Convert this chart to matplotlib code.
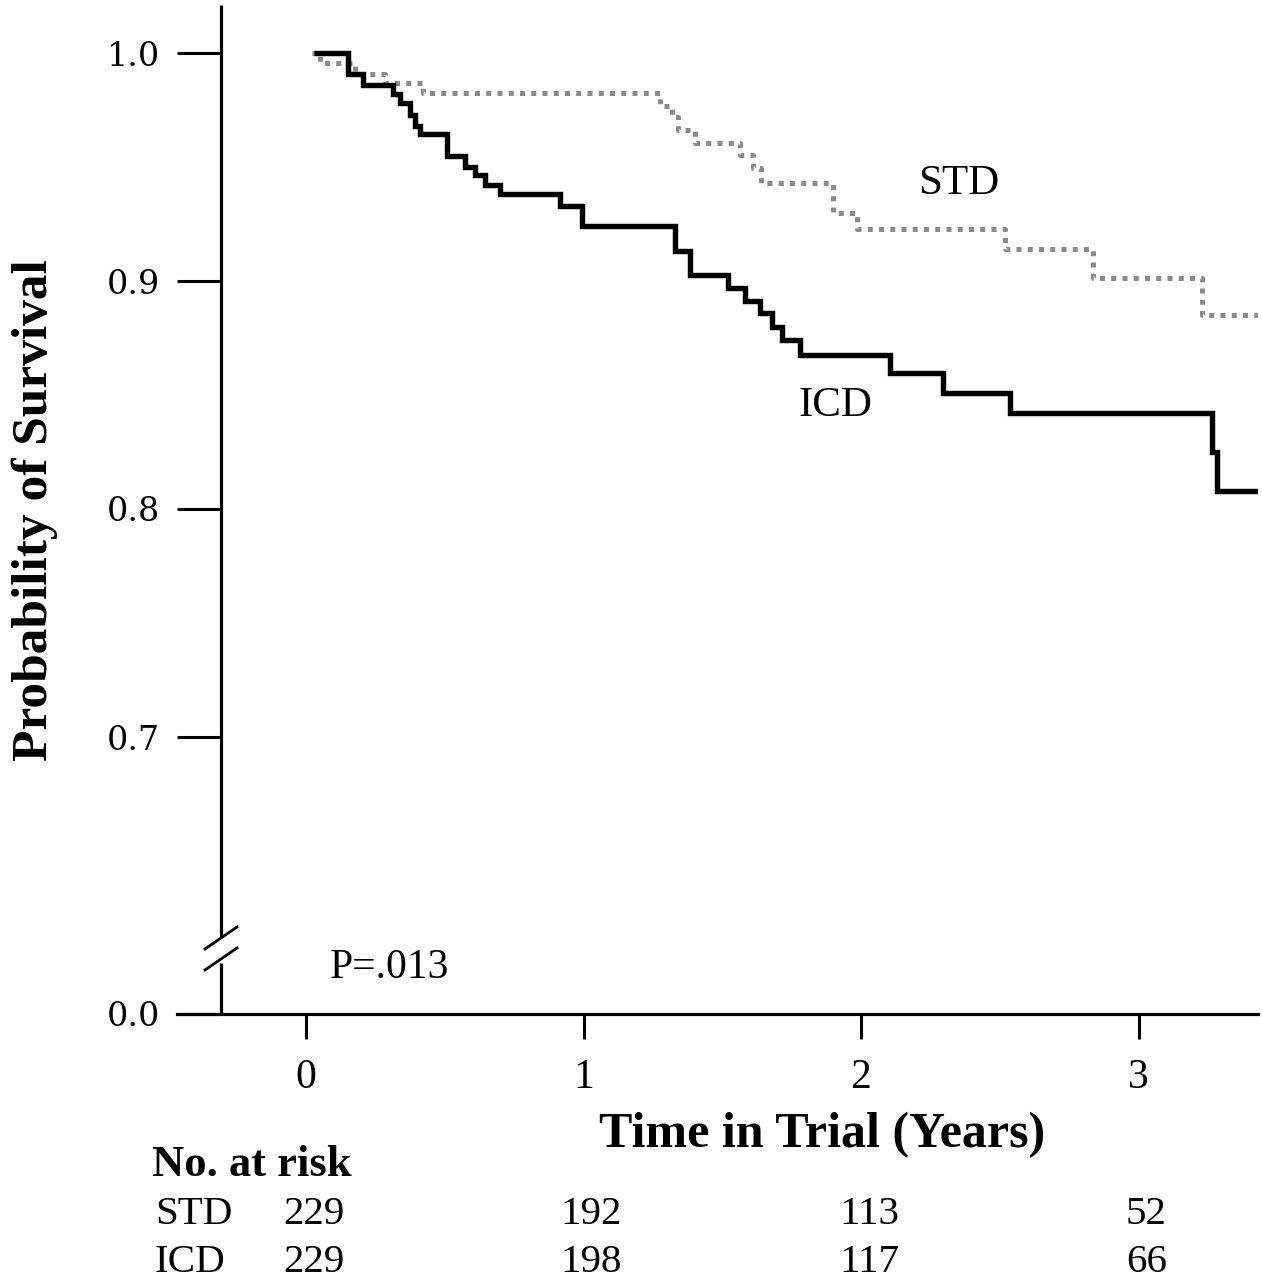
import matplotlib
matplotlib.use("Agg")
import matplotlib.pyplot as plt

# ---------------- data ----------------
icd_times = [0.03, 0.151, 0.205, 0.314, 0.339, 0.375, 0.393, 0.411, 0.508, 0.573,
             0.609, 0.645, 0.699, 0.915, 0.995, 1.330, 1.384, 1.521, 1.582, 1.636,
             1.679, 1.715, 1.780, 2.105, 2.295, 2.537, 3.265, 3.283, 3.43]
icd_surv = [1.0, 0.991, 0.986, 0.982, 0.978, 0.973, 0.968, 0.9645, 0.955, 0.950,
            0.9465, 0.942, 0.938, 0.933, 0.924, 0.913, 0.9026, 0.897, 0.8914, 0.886,
            0.880, 0.874, 0.8675, 0.8596, 0.851, 0.842, 0.825, 0.808, 0.808]

std_times = [0.02, 0.05, 0.177, 0.285, 0.422, 1.276, 1.319, 1.341, 1.402, 1.564,
             1.61, 1.64, 1.899, 1.986, 2.519, 2.836, 3.229, 3.43]
std_surv = [1.0, 0.9955, 0.991, 0.9867, 0.9823, 0.9768, 0.9719, 0.9662, 0.9604, 0.9553,
            0.9495, 0.9431, 0.930, 0.9228, 0.914, 0.9013, 0.8851, 0.8851]

x_ticks = [0, 1, 2, 3]
x_tick_labels = ["0", "1", "2", "3"]
y_ticks = [0.7, 0.8, 0.9, 1.0]
y_tick_labels = ["0.7", "0.8", "0.9", "1.0"]

risk_groups = ["STD", "ICD"]
risk_times = [0, 1, 2, 3]
risk_std = [229, 192, 113, 52]
risk_icd = [229, 198, 117, 66]

p_text = "P=.013"

# ---------------- layout (pixel based) ----------------
W, H = 1262, 1280
x0_px, px_per_year = 306.0, 277.5
y1_px, px_per_unit = 53.0, 2280.0
ax_left_px, ax_right_px = 177, 1258
ax_top_px, ax_bot_px = 5, 1014
yaxis_px = 221

def xd(px):
    return (px - x0_px) / px_per_year

def yd(py):
    return 1.0 - (py - y1_px) / px_per_unit

SERIF = ["Liberation Serif", "DejaVu Serif"]
plt.rcParams["font.family"] = SERIF

fig = plt.figure(figsize=(W / 100, H / 100), dpi=100)
ax = fig.add_axes([ax_left_px / W, 1 - ax_bot_px / H,
                   (ax_right_px - ax_left_px) / W, (ax_bot_px - ax_top_px) / H])
ax.set_xlim(xd(ax_left_px), xd(ax_right_px))
y_bottom = yd(ax_bot_px)
ax.set_ylim(y_bottom, yd(ax_top_px))

for s in ["top", "right", "left"]:
    ax.spines[s].set_visible(False)
ax.spines["bottom"].set_linewidth(2.3)

# curves
ax.step(std_times, std_surv, where="post", color="#8a8a8a", lw=3.6,
        linestyle=(0, (1, 1.25)), dash_capstyle="butt", solid_joinstyle="miter")
ax.step(icd_times, icd_surv, where="post", color="black", lw=3.9,
        solid_joinstyle="miter", solid_capstyle="butt")

# y axis with break
ya = xd(yaxis_px)
brk_hi = yd(937)
brk_lo = yd(963)
ax.plot([ya, ya], [brk_hi, yd(ax_top_px)], color="black", lw=2.3, clip_on=False,
        solid_capstyle="butt")
ax.plot([ya, ya], [y_bottom, brk_lo], color="black", lw=2.3, clip_on=False,
        solid_capstyle="butt")
dx = 16 / px_per_year
dy = 11 / px_per_unit
for yc in (yd(938), yd(959)):
    ax.plot([ya - dx, ya + dx], [yc - dy, yc + dy], color="black", lw=2.0, clip_on=False)

# ticks
ax.set_xticks(x_ticks)
ax.set_xticklabels(x_tick_labels, fontsize=30)
ax.tick_params(axis="x", direction="out", length=18, width=2.2, pad=14, colors="black")

ax.set_yticks([y_bottom] + y_ticks)
ax.set_yticklabels(["0.0"] + y_tick_labels, fontsize=24)
ax.tick_params(axis="y", direction="in", length=(yaxis_px - ax_left_px) * 0.72,
               width=2.2, pad=12, colors="black")
for lbl in ax.get_yticklabels():
    lbl.set_fontfamily(["DejaVu Serif"])
    lbl.set_fontsize(24)

# in-plot text
ax.text(xd(959), yd(184), "STD", fontsize=31, ha="center", va="center")
ax.text(xd(835), yd(406), "ICD", fontsize=31, ha="center", va="center")
ax.text(xd(330), yd(968), p_text, fontsize=30, ha="left", va="center")

# axis labels
fig.text(35 / W, 1 - 510 / H, "Probability of Survival", rotation=90,
         fontsize=37, fontweight="bold", ha="center", va="center")
fig.text(822 / W, 1 - 1135 / H, "Time in Trial (Years)", fontsize=36,
         fontweight="bold", ha="center", va="center")

# number at risk table
fig.text(152 / W, 1 - 1165 / H, "No. at risk", fontsize=32, fontweight="bold",
         ha="left", va="center")
row_y = [1215, 1262]
for g, vals, ry in zip(risk_groups, [risk_std, risk_icd], row_y):
    fig.text(155 / W, 1 - ry / H, g, fontsize=29.5, ha="left", va="center")
    for t, v in zip(risk_times, vals):
        xpx = x0_px + t * px_per_year + 8
        fig.text(xpx / W, 1 - ry / H, str(v), fontsize=29.5, ha="center", va="center")

fig.savefig("out.png", dpi=100, facecolor="white")
